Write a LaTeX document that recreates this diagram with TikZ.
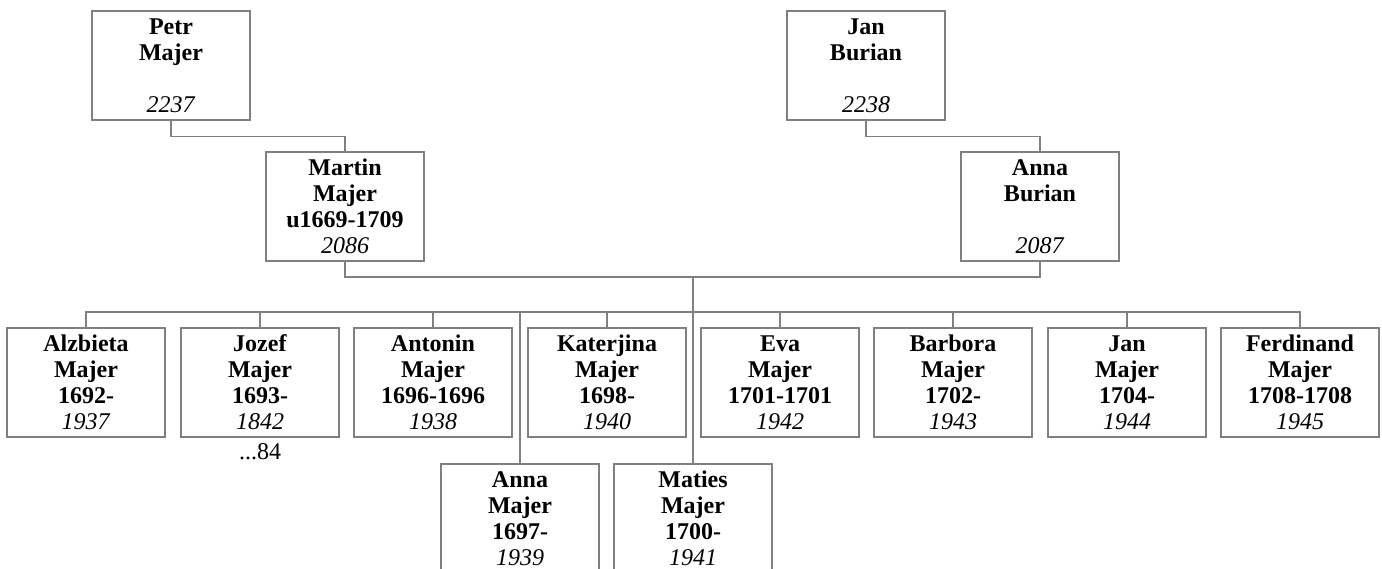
\documentclass[tikz,border=0pt]{standalone}
\usepackage{fontspec}
\setmainfont{Liberation Serif}
\definecolor{lg}{RGB}{128,128,128}
\begin{document}
\begin{tikzpicture}[x=0.5pt,y=-0.5pt,
  person/.style={draw=lg,line width=0.6pt,minimum width=79pt,minimum height=54.5pt,
    inner sep=0pt,align=center,font=\fontsize{12}{13}\selectfont},
  link/.style={draw=lg,line width=0.6pt}]
\useasboundingbox (0,0) rectangle (1382,568);
% grandparents
\node[person] (petr) at (171,65.5) {\textbf{Petr}\\\textbf{Majer}\\\mbox{}\\\textit{2237}};
\node[person] (jan) at (866,65.5) {\textbf{Jan}\\\textbf{Burian}\\\mbox{}\\\textit{2238}};
% parents
\node[person] (martin) at (345,206.5) {\textbf{Martin}\\\textbf{Majer}\\\textbf{u1669-1709}\\\textit{2086}};
\node[person] (annab) at (1040,206.5) {\textbf{Anna}\\\textbf{Burian}\\\mbox{}\\\textit{2087}};
% children top row
\node[person] (c1) at (86,382.5) {\textbf{Alzbieta}\\\textbf{Majer}\\\textbf{1692-}\\\textit{1937}};
\node[person] (c2) at (260,382.5) {\textbf{Jozef}\\\textbf{Majer}\\\textbf{1693-}\\\textit{1842}};
\node[person] (c3) at (433,382.5) {\textbf{Antonin}\\\textbf{Majer}\\\textbf{1696-1696}\\\textit{1938}};
\node[person] (c5) at (607,382.5) {\textbf{Katerjina}\\\textbf{Majer}\\\textbf{1698-}\\\textit{1940}};
\node[person] (c7) at (780,382.5) {\textbf{Eva}\\\textbf{Majer}\\\textbf{1701-1701}\\\textit{1942}};
\node[person] (c8) at (953,382.5) {\textbf{Barbora}\\\textbf{Majer}\\\textbf{1702-}\\\textit{1943}};
\node[person] (c9) at (1127,382.5) {\textbf{Jan}\\\textbf{Majer}\\\textbf{1704-}\\\textit{1944}};
\node[person] (c10) at (1300,382.5) {\textbf{Ferdinand}\\\textbf{Majer}\\\textbf{1708-1708}\\\textit{1945}};
% children bottom row
\node[person] (c4) at (520,518.5) {\textbf{Anna}\\\textbf{Majer}\\\textbf{1697-}\\\textit{1939}};
\node[person] (c6) at (693,518.5) {\textbf{Maties}\\\textbf{Majer}\\\textbf{1700-}\\\textit{1941}};
\node[font=\fontsize{12}{13}\selectfont,inner sep=0pt] (more) at (260,452) {...84};
% connectors
\coordinate (bus) at (693,312);
\draw[link] (petr.south) -- ++(0,16) -| (martin.north);
\draw[link] (jan.south) -- ++(0,16) -| (annab.north);
\draw[link] (martin.south) |- (bus |- 0,277) -| (annab.south);
\draw[link] (bus |- 0,277) -- (c6.north);
\draw[link] (c1.north) |- (bus);
\draw[link] (c10.north) |- (bus);
\foreach \c in {c2,c3,c5,c7,c8,c9} \draw[link] (\c.north) -- (\c.north |- bus);
\draw[link] (c4.north) -- (c4.north |- bus);
\end{tikzpicture}
\end{document}
